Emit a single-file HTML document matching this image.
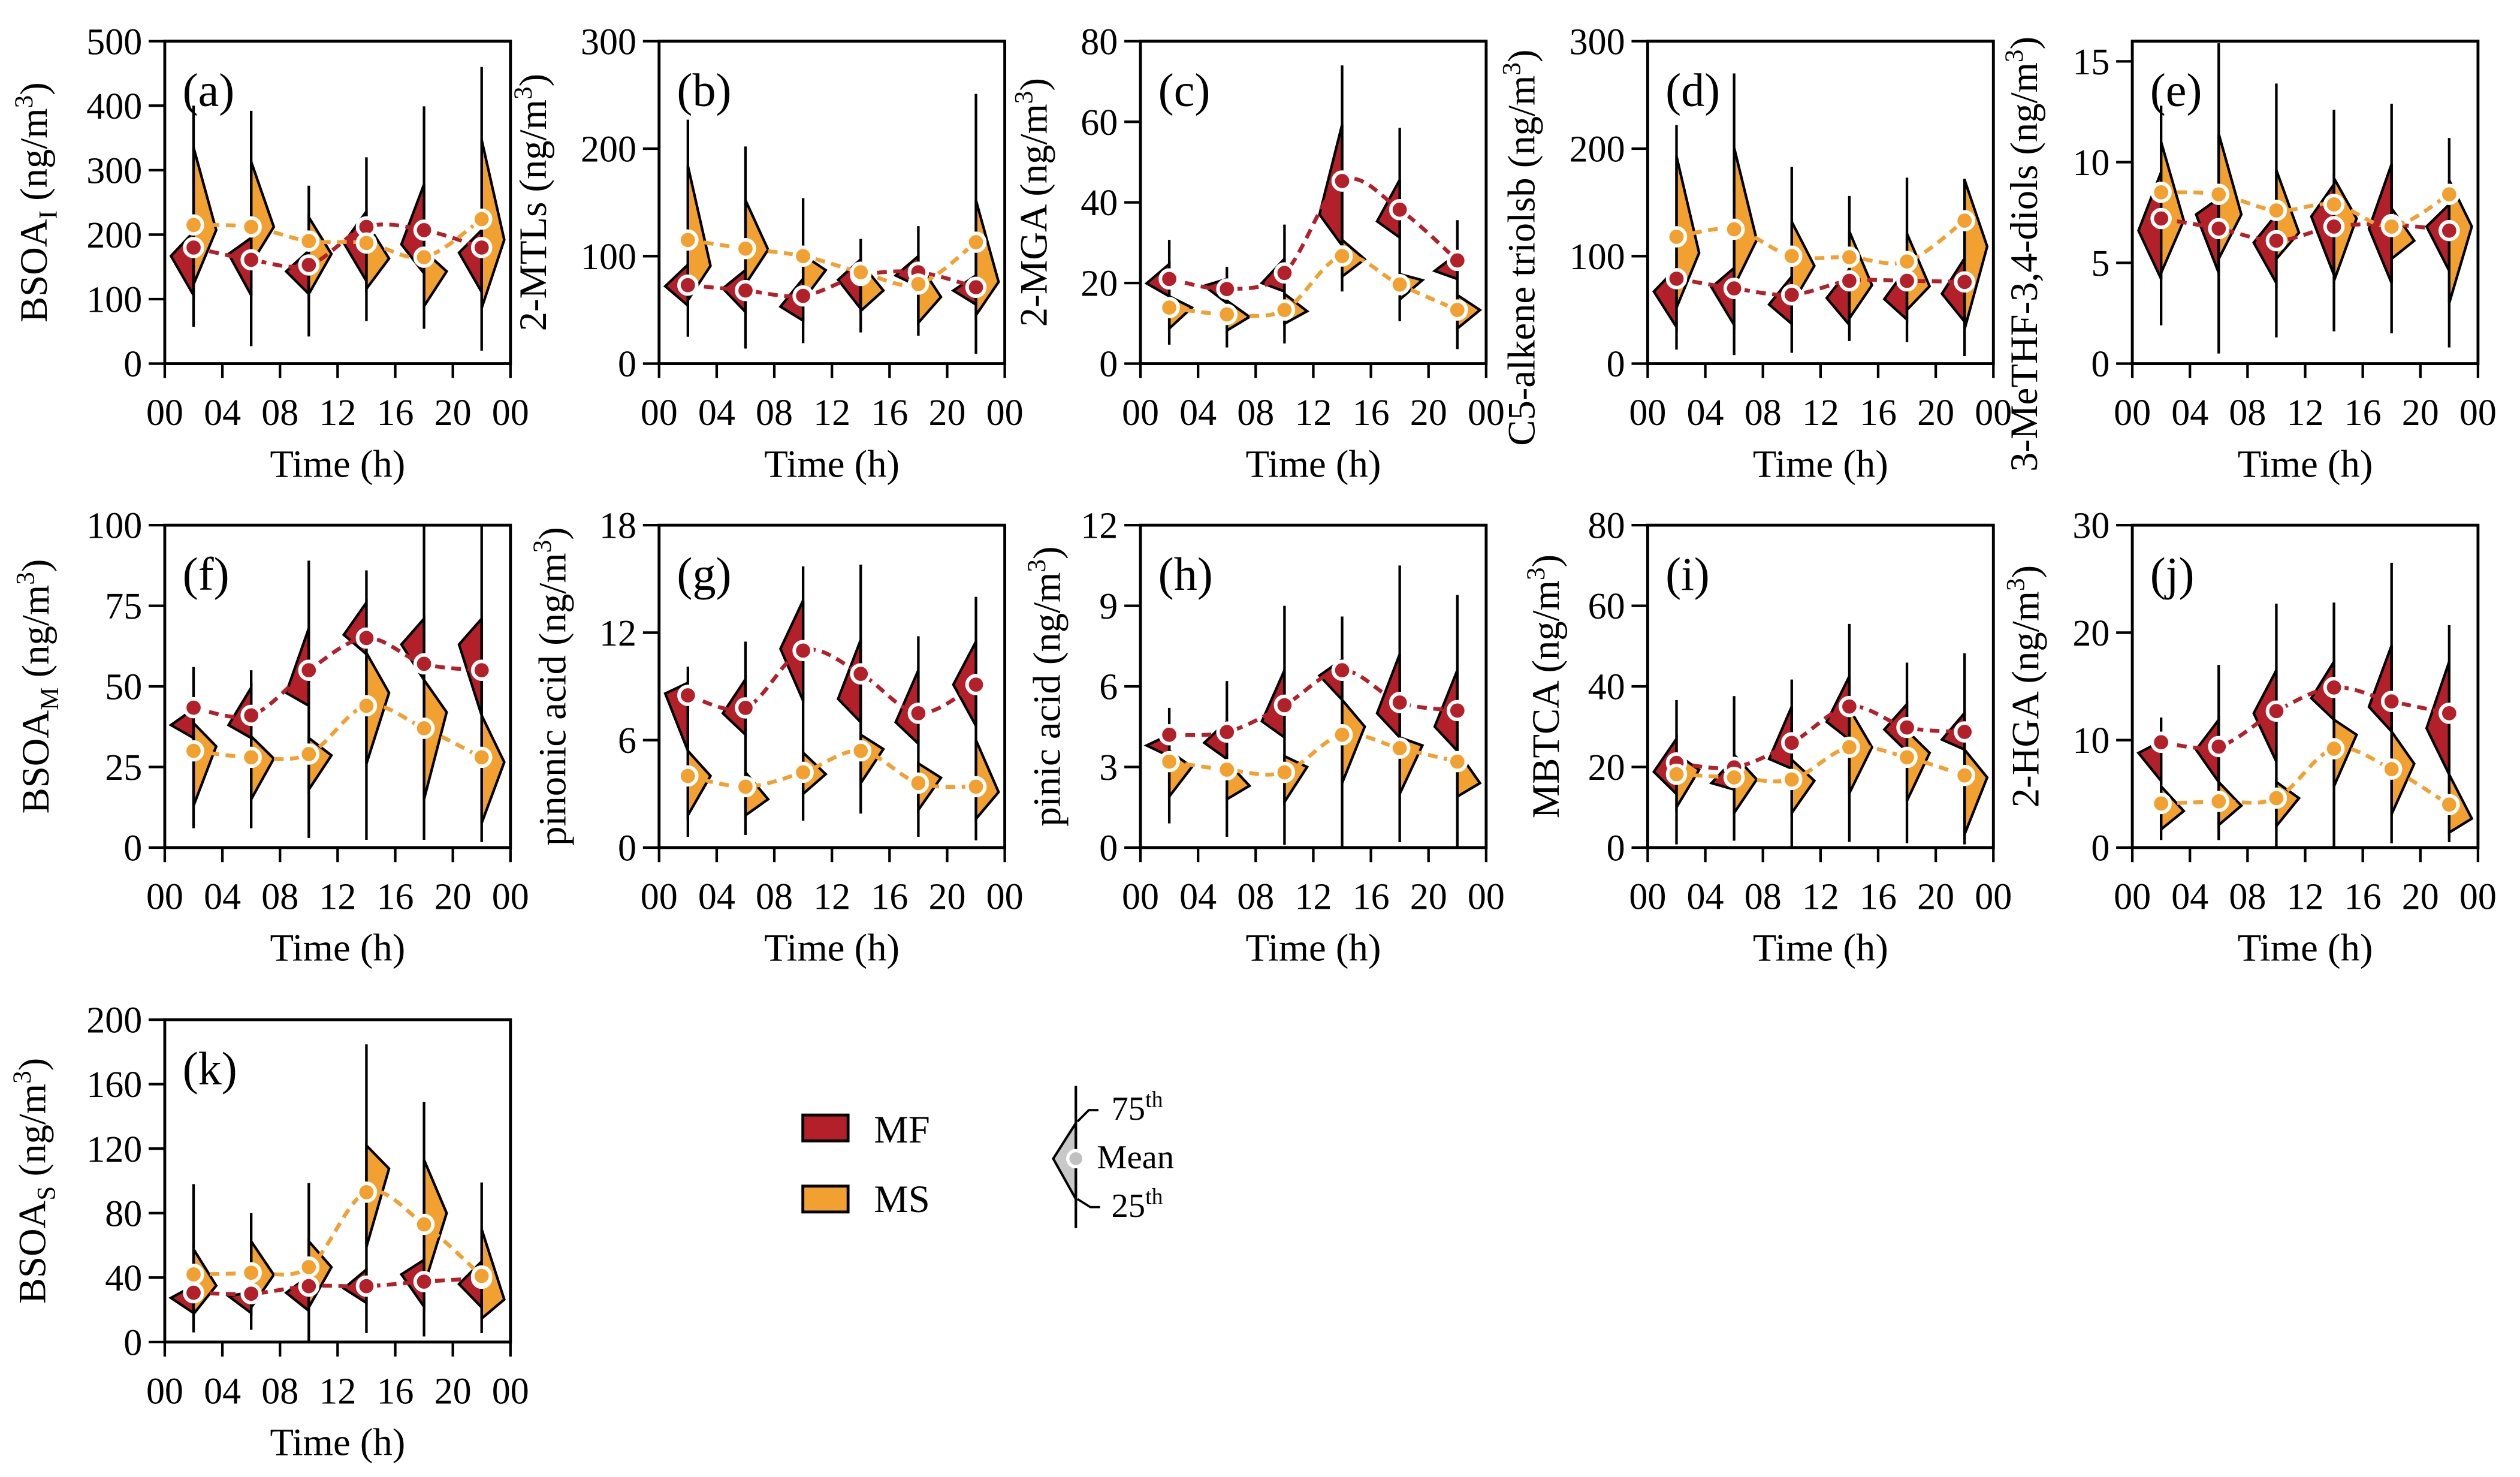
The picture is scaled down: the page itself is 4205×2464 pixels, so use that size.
<!DOCTYPE html>
<html><head><meta charset="utf-8"><style>
html,body{margin:0;padding:0;background:#fff;}
svg{display:block;font-family:"Liberation Serif",serif;}
</style></head><body>
<svg id="chart" xmlns="http://www.w3.org/2000/svg" width="4205" height="2464" viewBox="0 0 1560 914" preserveAspectRatio="none"></svg>
<script>
// ---------- data ----------
const hours = [2, 6, 10, 14, 18, 22];
const xTickLabels = ["00","04","08","12","16","20","00"];

const a_wMax=[400,392,276,320,399,460], a_wMin=[57,27,42,66,54,20];
const a_mfHi=[204,195,175,236,278,207], a_mfApex=[167,170,143,187,185,172], a_mfLo=[106,106,108,128,140,111], a_mfMean=[180,161,153,212,207,180];
const a_msHi=[335,313,227,219,175,347], a_msApex=[207,212,170,163,143,192], a_msLo=[123,155,108,116,89,86], a_msMean=[215,212,190,187,165,224];

const b_wMax=[227,202,154,116,128,251], b_wMin=[25,14,19,29,26,9];
const b_mfHi=[92,87,79,97,100,82], b_mfApex=[72,70,53,78,82,68], b_mfLo=[54,48,40,51,72,55], b_mfMean=[73,68,63,82,85,71];
const b_msHi=[184,152,101,94,94,152], b_msApex=[91,106,87,68,62,76], b_msLo=[59,74,59,49,38,45], b_msMean=[115,107,100,85,74,113];

const c_wMax=[30.7,24,34.5,74,58.5,35.6], c_wMin=[4.7,4,5,17.9,10.5,3.6];
const c_mfHi=[24.7,21,26,59.3,45.6,27.3], c_mfApex=[19.9,19.3,20,37,35.3,23], c_mfLo=[16.7,15,17.9,29.3,31.3,21], c_mfMean=[21,18.5,22.5,45.3,38.2,25.6];
const c_msHi=[16.7,15.6,17.3,30.7,22.2,17], c_msApex=[13.9,11.6,13,25.9,20.7,13.3], c_msLo=[8.7,8.2,9.9,21.6,15.9,8.7], c_msMean=[13.9,12.2,13.3,26.7,19.6,13.3];

const d_wMax=[222,270,183,156,173,172], d_wMin=[13,8,10,21,20,7];
const d_mfHi=[89,89,81,88,89,98], d_mfApex=[67,71,55,61,60,65], d_mfLo=[34,36,37,36,41,39], d_mfMean=[79,70,64,77,77,76];
const d_msHi=[193,201,132,123,121,171], d_msApex=[103,115,91,73,72,109], d_msLo=[52,72,55,42,50,32], d_msMean=[118,125,100,99,95,133];

const e_wMax=[12.8,15.9,13.9,12.6,12.9,11.2], e_wMin=[1.9,0.5,1.3,1.6,1.5,0.8];
const e_mfHi=[9.5,8.2,7.4,8.9,9.9,7.9], e_mfApex=[6.6,7.4,6,7.3,6.7,6.8], e_mfLo=[4.2,4.5,4,4.4,4,4.6], e_mfMean=[7.2,6.7,6.1,6.8,6.9,6.6];
const e_msHi=[11,11.4,9.6,9.2,7.7,9.1], e_msApex=[7.1,7.4,6.5,7.2,6.1,6.8], e_msLo=[4.5,5.2,5.2,4.1,5.2,3], e_msMean=[8.5,8.4,7.6,7.9,6.8,8.4];

const f_wMax=[56,55,89,86,100,100], f_wMin=[6,6,3,2.4,2.4,1.7];
const f_mfHi=[43,49.6,68,76,71,71], f_mfApex=[38,38,48,66,63,63], f_mfLo=[34,34,44,60,52,41], f_mfMean=[43.4,41,55,65,57,55];
const f_msHi=[38.6,34.5,34,60.4,52,41], f_msApex=[31.4,27.6,28.6,48,42,26.5], f_msLo=[13,15,18,26,15,7.6], f_msMean=[30,28,29,44,37,28];

const g_wMax=[10.1,11.5,15.7,15.8,11.8,14], g_wMin=[0.6,0.7,1.5,1.9,0.6,0.4];
const g_mfHi=[9.2,9.4,13.8,11.6,9.9,11.5], g_mfApex=[8.6,7.5,11.1,8.3,7,9.1], g_mfLo=[5.4,6.3,8.2,7,5.8,6.8], g_mfMean=[8.5,7.8,11,9.7,7.5,9.1];
const g_msHi=[5.4,4.2,5.3,6.3,4.7,6], g_msApex=[4,2.7,4.1,5.5,3.9,3.1], g_msLo=[1.8,1.8,3,3.6,2.1,1.6], g_msMean=[4,3.4,4.2,5.4,3.6,3.4];

const h_wMax=[5.2,6.2,9,8.6,10.5,9.4], h_wMin=[0.9,0.4,0.1,0,0.2,0];
const h_mfHi=[4.2,4.7,6.6,7,7.2,6.6], h_mfApex=[3.8,3.9,4.7,6.4,5,4.5], h_mfLo=[3.4,3.3,4.1,5.5,4.1,3.6], h_mfMean=[4.2,4.3,5.3,6.6,5.4,5.1];
const h_msHi=[3.6,3.2,3.4,5.5,4.1,3.6], h_msApex=[3,2.3,3,4.5,3.8,2.4], h_msLo=[1.9,1.8,1.7,2.4,2,1.9], h_msMean=[3.2,2.9,2.8,4.2,3.7,3.2];

const i_wMax=[36.6,37.6,41.7,55.5,45.9,48.2], i_wMin=[0.8,1.7,0.3,1.4,1.1,0.8];
const i_mfHi=[27,22,35,42.5,35.6,33.4], i_mfApex=[18.8,16,22,31.2,29.3,26.8], i_mfLo=[13.3,14.4,19.6,26.8,23.8,24.3], i_mfMean=[21,19.9,26,35,29.8,28.7];
const i_msHi=[23.2,23,21.8,34.5,29,24.3], i_msApex=[19.3,16.9,16.6,24.9,23.5,17.4], i_msLo=[10,8.6,8.6,13.5,11.6,3.3], i_msMean=[18.2,17.4,16.9,24.9,22.4,17.9];

const j_wMax=[12.1,17,22.7,22.8,26.5,20.7], j_wMin=[0.7,0.7,0.1,0.1,0.4,0.5];
const j_mfHi=[9.9,11.9,16.5,17.3,18.8,17.3], j_mfApex=[8.8,9.1,12.5,13.9,13.1,11.1], j_mfLo=[6.2,6.1,8,11.9,10.8,6.8], j_mfMean=[9.8,9.4,12.7,14.9,13.6,12.5];
const j_msHi=[5.7,6.1,6.1,11.9,10.8,6.8], j_msApex=[3.4,3.9,4.6,10.5,7.8,2.7], j_msLo=[1.7,2.1,2,5.7,3.1,1.4], j_msMean=[4.1,4.3,4.6,9.2,7.3,4];

const k_wMax=[98,80,98.6,184.7,149,99], k_wMin=[6,7.6,0.7,5.6,3.5,5.6];
const k_mfHi=[35,31,41,45,51,50], k_mfApex=[27.4,28.5,30.6,33.3,42,36], k_mfLo=[18,18,19.4,24.3,22,21.5], k_mfMean=[30.6,30,34.7,34.7,37.5,39.6];
const k_msHi=[57.6,62.5,62.5,122,113,70], k_msApex=[35,41.7,46.5,107.6,80,26.4], k_msLo=[17.4,21.5,21.5,59,35,14.6], k_msMean=[42,43,46.5,93,73,41];

const yTicksA=[0,100,200,300,400,500], yTicksB=[0,100,200,300], yTicksC=[0,20,40,60,80], yTicksD=[0,100,200,300], yTicksE=[0,5,10,15];
const yTicksF=[0,25,50,75,100], yTicksG=[0,6,12,18], yTicksH=[0,3,6,9,12], yTicksI=[0,20,40,60,80], yTicksJ=[0,10,20,30], yTicksK=[0,40,80,120,160,200];

// ---------- layout ----------
const RED="#B3202A", ORG="#F2A030";
const NS="http://www.w3.org/2000/svg";
const svg=document.getElementById('chart');
function mk(tag,attrs,parent){const e=document.createElementNS(NS,tag);for(const k in attrs)e.setAttribute(k,attrs[k]);(parent||svg).appendChild(e);return e;}

const panels=[
 {key:'a',L:102,T:25.5,ymax:500,ticks:yTicksA,toff:73,ty:0,title:[['BSOA',0],['I',1],['  (ng/m',0],['3',2],[')',0]],
  d:[a_wMax,a_wMin,a_mfHi,a_mfApex,a_mfLo,a_mfMean,a_msHi,a_msApex,a_msLo,a_msMean]},
 {key:'b',L:408,T:25.5,ymax:300,ticks:yTicksB,toff:70,ty:0,title:[['2-MTLs (ng/m',0],['3',2],[')',0]],
  d:[b_wMax,b_wMin,b_mfHi,b_mfApex,b_mfLo,b_mfMean,b_msHi,b_msApex,b_msLo,b_msMean]},
 {key:'c',L:706,T:25.5,ymax:80,ticks:yTicksC,toff:58,ty:0,title:[['2-MGA (ng/m',0],['3',2],[')',0]],
  d:[c_wMax,c_wMin,c_mfHi,c_mfApex,c_mfLo,c_mfMean,c_msHi,c_msApex,c_msLo,c_msMean]},
 {key:'d',L:1020,T:25.5,ymax:300,ticks:yTicksD,toff:70,ty:28,title:[['C5-alkene triolsb (ng/m',0],['3',2],[')',0]],
  d:[d_wMax,d_wMin,d_mfHi,d_mfApex,d_mfLo,d_mfMean,d_msHi,d_msApex,d_msLo,d_msMean]},
 {key:'e',L:1320,T:25.5,ymax:16,ticks:yTicksE,toff:59,ty:32,title:[['3-MeTHF-3,4-diols (ng/m',0],['3',2],[')',0]],
  d:[e_wMax,e_wMin,e_mfHi,e_mfApex,e_mfLo,e_mfMean,e_msHi,e_msApex,e_msLo,e_msMean]},
 {key:'f',L:102,T:325,ymax:100,ticks:yTicksF,toff:72,ty:0,title:[['BSOA',0],['M',1],['  (ng/m',0],['3',2],[')',0]],
  d:[f_wMax,f_wMin,f_mfHi,f_mfApex,f_mfLo,f_mfMean,f_msHi,f_msApex,f_msLo,f_msMean]},
 {key:'g',L:408,T:325,ymax:18,ticks:yTicksG,toff:58,ty:0,title:[['pinonic acid (ng/m',0],['3',2],[')',0]],
  d:[g_wMax,g_wMin,g_mfHi,g_mfApex,g_mfLo,g_mfMean,g_msHi,g_msApex,g_msLo,g_msMean]},
 {key:'h',L:706,T:325,ymax:12,ticks:yTicksH,toff:50,ty:0,title:[['pinic acid (ng/m',0],['3',2],[')',0]],
  d:[h_wMax,h_wMin,h_mfHi,h_mfApex,h_mfLo,h_mfMean,h_msHi,h_msApex,h_msLo,h_msMean]},
 {key:'i',L:1020,T:325,ymax:80,ticks:yTicksI,toff:55,ty:0,title:[['MBTCA (ng/m',0],['3',2],[')',0]],
  d:[i_wMax,i_wMin,i_mfHi,i_mfApex,i_mfLo,i_mfMean,i_msHi,i_msApex,i_msLo,i_msMean]},
 {key:'j',L:1320,T:325,ymax:30,ticks:yTicksJ,toff:58,ty:0,title:[['2-HGA  (ng/m',0],['3',2],[')',0]],
  d:[j_wMax,j_wMin,j_mfHi,j_mfApex,j_mfLo,j_mfMean,j_msHi,j_msApex,j_msLo,j_msMean]},
 {key:'k',L:102,T:631,ymax:200,ticks:yTicksK,toff:74,ty:0,title:[['BSOA',0],['S',1],[' (ng/m',0],['3',2],[')',0]],
  d:[k_wMax,k_wMin,k_mfHi,k_mfApex,k_mfLo,k_mfMean,k_msHi,k_msApex,k_msLo,k_msMean]}
];
const W=214, H=199.5, APEX=14;

function smoothPath(pts){
  let d=`M${pts[0][0]},${pts[0][1]}`;
  for(let i=0;i<pts.length-1;i++){
    const p0=pts[Math.max(0,i-1)],p1=pts[i],p2=pts[i+1],p3=pts[Math.min(pts.length-1,i+2)];
    const c1=[p1[0]+(p2[0]-p0[0])/6,p1[1]+(p2[1]-p0[1])/6];
    const c2=[p2[0]-(p3[0]-p1[0])/6,p2[1]-(p3[1]-p1[1])/6];
    d+=` C${c1[0]},${c1[1]} ${c2[0]},${c2[1]} ${p2[0]},${p2[1]}`;
  }
  return d;
}

panels.forEach(p=>{
  const g=mk('g',{});
  
  
  const x=h=>p.L+h/24*W;
  const y=v=>p.T+H-v/p.ymax*H;
  const B=p.T+H;
  const [wMax,wMin,mfHi,mfApex,mfLo,mfMean,msHi,msApex,msLo,msMean]=p.d;

  p.ticks.forEach(t=>{
    const ln=mk('line',{x1:p.L-10,x2:p.L,y1:y(t),y2:y(t),stroke:'#000','stroke-width':1.6},g);
    
    
    const tx=mk('text',{x:p.L-14,y:y(t)+8,'text-anchor':'end','font-size':23},g);
    tx.textContent=t;
    
    
  });
  xTickLabels.forEach((lab,i)=>{
    const hx=x(i*4);
    const ln=mk('line',{x1:hx,x2:hx,y1:B,y2:B+9,stroke:'#000','stroke-width':1.6},g);
    
    
    const tx=mk('text',{x:hx,y:B+38,'text-anchor':'middle','font-size':23},g);
    tx.textContent=lab;
    
    
  });
  const xt=mk('text',{x:p.L+W/2,y:B+70,'text-anchor':'middle','font-size':24},g);
  xt.textContent='Time (h)';
  
  

  const yt=mk('text',{transform:`translate(${p.L-p.toff},${p.T+H/2+p.ty}) rotate(-90)`,'text-anchor':'middle','font-size':24},g);
  
  
  let shift=0;
  p.title.forEach(([s,kind])=>{
    const ts=mk('tspan',{},yt);
    if(kind===1){ts.setAttribute('dy',6-shift);shift=6;ts.setAttribute('font-size',16);}
    else if(kind===2){ts.setAttribute('dy',-9-shift);shift=-9;ts.setAttribute('font-size',16);}
    else if(shift!==0){ts.setAttribute('dy',-shift);shift=0;}
    ts.textContent=s;
  });

  const pl=mk('text',{x:p.L+11,y:p.T+40,'font-size':29},g);
  pl.textContent='('+p.key+')';
  
  

  hours.forEach((hr,i)=>{
    const cx=x(hr);
    const mf=mk('polygon',{points:`${cx},${y(mfHi[i])} ${cx-APEX},${y(mfApex[i])} ${cx},${y(mfLo[i])}`,fill:RED,stroke:'#000','stroke-width':1.6,'stroke-linejoin':'miter'},g);
    
    
    const ms=mk('polygon',{points:`${cx},${y(msHi[i])} ${cx+APEX},${y(msApex[i])} ${cx},${y(msLo[i])}`,fill:ORG,stroke:'#000','stroke-width':1.6,'stroke-linejoin':'miter'},g);
    
    
    const wl=mk('line',{x1:cx,x2:cx,y1:y(wMax[i]),y2:y(wMin[i]),stroke:'#000','stroke-width':1.6},g);
    
    
  });
  [[mfMean,RED,'mf'],[msMean,ORG,'ms']].forEach(([arr,col,nm])=>{
    const pts=hours.map((hr,i)=>[x(hr),y(arr[i])]);
    const pa=mk('path',{d:smoothPath(pts),fill:'none',stroke:col,'stroke-width':2.4,'stroke-dasharray':'6,4'},g);
    
    
  });
  [[mfMean,RED,'mf'],[msMean,ORG,'ms']].forEach(([arr,col,nm])=>{
    hours.forEach((hr,i)=>{
      const c=mk('circle',{cx:x(hr),cy:y(arr[i]),r:5.5,fill:col,stroke:'#fff','stroke-width':2.2},g);
      
      
    });
  });
  const fr=mk('rect',{x:p.L,y:p.T,width:W,height:H,fill:'none',stroke:'#000','stroke-width':1.8},g);
  
  
});

// ---------- legend ----------
const lg=mk('g',{});


const b1=mk('rect',{x:497,y:690,width:28,height:16,fill:RED,stroke:'#000','stroke-width':1.8},lg);


const t1=mk('text',{x:541,y:707,'font-size':24},lg); t1.textContent='MF';


const b2=mk('rect',{x:497,y:734,width:28,height:16,fill:ORG,stroke:'#000','stroke-width':1.8},lg);


const t2=mk('text',{x:541,y:750,'font-size':24},lg); t2.textContent='MS';



const kg=mk('g',{});


mk('polygon',{points:'666,695 652,717 666,742',fill:'#c8c8c8',stroke:'#000','stroke-width':1.5},kg);
mk('line',{x1:666,x2:666,y1:672,y2:760,stroke:'#000','stroke-width':1.6},kg);
mk('circle',{cx:666,cy:717,r:5,fill:'#c0c0c0',stroke:'#fff','stroke-width':2},kg);
mk('polyline',{points:'667,694 674,687 680,687',fill:'none',stroke:'#000','stroke-width':1.4},kg);
mk('polyline',{points:'667,742 675,747 681,747',fill:'none',stroke:'#000','stroke-width':1.4},kg);
const k75=mk('text',{x:688,y:693,'font-size':21},kg);
k75.innerHTML='75<tspan dy="-8" font-size="14">th</tspan>';


const km=mk('text',{x:679,y:723,'font-size':21},kg); km.textContent='Mean';


const k25=mk('text',{x:688,y:753,'font-size':21},kg);
k25.innerHTML='25<tspan dy="-8" font-size="14">th</tspan>';


</script>
</body></html>
